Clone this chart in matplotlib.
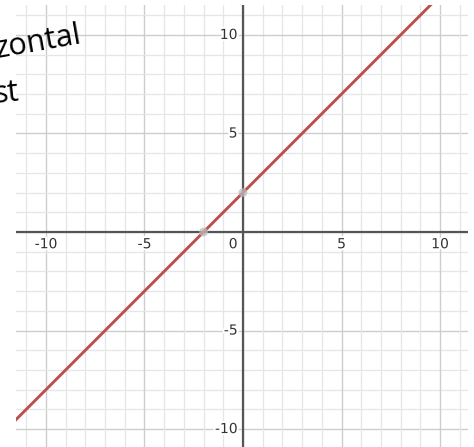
import numpy as np
import matplotlib
matplotlib.use("Agg")
import matplotlib.pyplot as plt
import matplotlib.patheffects as pe

# Data: line y = slope*x + intercept
slope = 1.0
intercept = 2.0
line_x = [-12.0, 12.0]
line_y = [slope * v + intercept for v in line_x]
point_x = [-2.0, 0.0]
point_y = [0.0, 2.0]
tick_vals = [-10, -5, 5, 10]
note_lines = ["zontal", "st"]

W, H = 474, 447
fig = plt.figure(figsize=(W / 100, H / 100), dpi=100)
fig.patch.set_facecolor("white")
ax = fig.add_axes([16 / W, 0, (468 - 16) / W, (447 - 5) / H])
ax.set_xlim(-11.52, 11.42)
ax.set_ylim(-10.91, 11.52)
for s in ax.spines.values():
    s.set_visible(False)
ax.set_xticks([]); ax.set_yticks([])

# grid
for v in range(-12, 13):
    major = (v % 5 == 0)
    c = "#cdcdcd" if major else "#e6e6e6"
    lw = 1.0 if major else 0.9
    ax.axvline(v, color=c, lw=lw, zorder=0)
    ax.axhline(v, color=c, lw=lw, zorder=0)
ax.axhline(0, color="#555555", lw=1.6, zorder=1)
ax.axvline(0, color="#555555", lw=1.6, zorder=1)

# line and points
ax.plot(line_x, line_y, color="#b9524f", lw=2.1, zorder=3, solid_capstyle="butt")
ax.scatter(point_x, point_y, s=40, color="#bbbbbb", alpha=0.75, zorder=4, edgecolors="none")

stroke = [pe.withStroke(linewidth=3, foreground="white")]
for v in tick_vals:
    ax.text(v, -0.62, str(v), ha="center", va="center", fontsize=10,
            color="#333333", path_effects=stroke, zorder=5)
    ax.text(-0.28, v, str(v), ha="right", va="center", fontsize=10,
            color="#333333", path_effects=stroke, zorder=5)
ax.text(-0.28, -0.62, "0", ha="right", va="center", fontsize=10,
        color="#333333", path_effects=stroke, zorder=5)

# handwritten note
fig.text(-3 / W, 1 - 58 / H, note_lines[0], fontsize=22, color="black",
         family="Open Sans", rotation=10, ha="left", va="baseline",
         rotation_mode="anchor")
fig.text(-6 / W, 1 - 103 / H, note_lines[1], fontsize=22, color="black",
         family="Open Sans", rotation=6, ha="left", va="baseline",
         rotation_mode="anchor")

fig.savefig("out.png", dpi=100, facecolor="white")
